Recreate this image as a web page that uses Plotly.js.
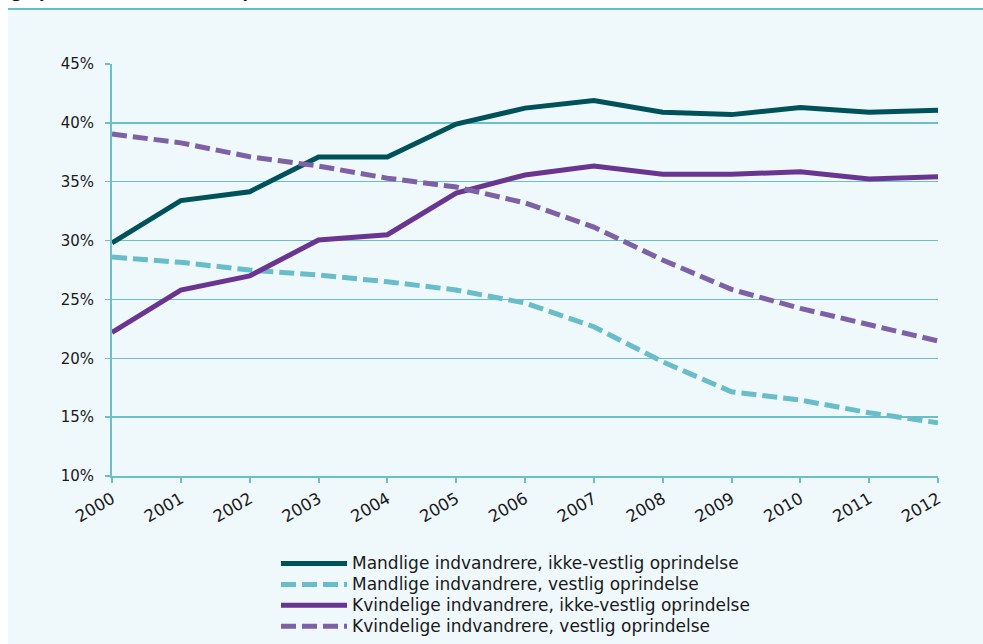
<!DOCTYPE html>
<html>
<head>
<meta charset="utf-8">
<script src="https://cdn.plot.ly/plotly-3.0.1.min.js"></script>
<style>
html,body{margin:0;padding:0;background:#ffffff;}
#chart{width:983px;height:644px;}
</style>
</head>
<body>
<div id="chart"></div>
<script>
const years = ['2000','2001','2002','2003','2004','2005','2006','2007','2008','2009','2010','2011','2012'];
const seriesNames = [
  'Mandlige indvandrere, ikke-vestlig oprindelse',
  'Mandlige indvandrere, vestlig oprindelse',
  'Kvindelige indvandrere, ikke-vestlig oprindelse',
  'Kvindelige indvandrere, vestlig oprindelse'
];
const menNonWestern   = [29.8, 33.4, 34.15, 37.1, 37.1, 39.9, 41.25, 41.9, 40.9, 40.7, 41.3, 40.9, 41.07];
const menWestern      = [28.6, 28.15, 27.5, 27.07, 26.5, 25.8, 24.7, 22.68, 19.7, 17.16, 16.45, 15.37, 14.52];
const womenNonWestern = [22.2, 25.8, 27.0, 30.05, 30.5, 34.04, 35.57, 36.33, 35.63, 35.63, 35.85, 35.23, 35.43];
const womenWestern    = [39.05, 38.3, 37.12, 36.33, 35.3, 34.55, 33.2, 31.15, 28.35, 25.85, 24.24, 22.82, 21.47];
const yTickVals = [10, 15, 20, 25, 30, 35, 40, 45];
const yTickText = ['10%', '15%', '20%', '25%', '30%', '35%', '40%', '45%'];
const titleText = 'og oprindelse, 2000-2012, pct.';

const grid = '#6bbfc9';
const font = '"DejaVu Sans", Verdana, sans-serif';

function tr(name, y, color, dash) {
  return {
    type: 'scatter', mode: 'lines',
    name: '<span style="font-size:17px">' + name + '</span>',
    x: years, y: y,
    line: {color: color, width: 5, dash: dash, shape: 'linear'},
    hoverinfo: 'skip'
  };
}
const data = [
  tr(seriesNames[0], menNonWestern, '#00525a', 'solid'),
  tr(seriesNames[1], menWestern, '#68bdc8', '15px,6px'),
  tr(seriesNames[2], womenNonWestern, '#6a3590', 'solid'),
  tr(seriesNames[3], womenWestern, '#7e60a5', '15px,6px')
];

const L = 112, R = 938, T = 64, B = 476;
const W = 983, H = 644;
const px = v => (v - L) / (R - L);
const py = v => (B - v) / (B - T);

const layout = {
  width: W, height: H,
  margin: {l: L, r: W - R, t: T, b: H - B, pad: 0, autoexpand: false},
  paper_bgcolor: '#ffffff',
  plot_bgcolor: 'rgba(0,0,0,0)',
  font: {family: font, color: '#1a1a1a', size: 15},
  showlegend: true,
  xaxis: {
    type: 'category',
    range: [0, 12],
    showgrid: false,
    showline: true, linecolor: grid, linewidth: 2,
    ticks: 'outside', ticklen: 5, tickcolor: grid, tickwidth: 2,
    tickangle: -30,
    tickfont: {family: font, size: 16.5, color: '#1a1a1a'},
    zeroline: false, fixedrange: true, automargin: false
  },
  yaxis: {
    range: [10, 45],
    tickvals: yTickVals, ticktext: yTickText,
    showgrid: true, gridcolor: grid, gridwidth: 1.5,
    showline: true, linecolor: grid, linewidth: 2,
    ticks: 'outside', ticklen: 5, tickcolor: grid, tickwidth: 1.5,
    ticklabelstandoff: 8,
    tickfont: {family: font, size: 15, color: '#1a1a1a'},
    zeroline: false, fixedrange: true, automargin: false
  },
  legend: {
    x: px(276), xanchor: 'left',
    y: py(548), yanchor: 'top',
    bgcolor: 'rgba(0,0,0,0)', borderwidth: 0,
    font: {family: font, size: 13.8, color: '#1a1a1a'},
    tracegroupgap: 0, itemwidth: 66,
    traceorder: 'normal'
  },
  shapes: [
    {type: 'rect', xref: 'paper', yref: 'paper', layer: 'below',
     x0: px(8), x1: px(983), y0: py(644), y1: py(9),
     fillcolor: '#eff8fa', line: {width: 0}},
    {type: 'line', xref: 'paper', yref: 'paper', layer: 'below',
     x0: px(8), x1: px(983), y0: py(9), y1: py(9),
     line: {color: '#66bcc6', width: 2}}
  ],
  annotations: [
    {xref: 'paper', yref: 'paper', x: px(-2), y: py(4), xanchor: 'left', yanchor: 'bottom',
     text: '<b>' + titleText + '</b>', showarrow: false,
     font: {family: font, size: 16, color: '#1a1a1a'}}
  ]
};

Plotly.newPlot('chart', data, layout, {displayModeBar: false, staticPlot: true});
</script>
</body>
</html>
